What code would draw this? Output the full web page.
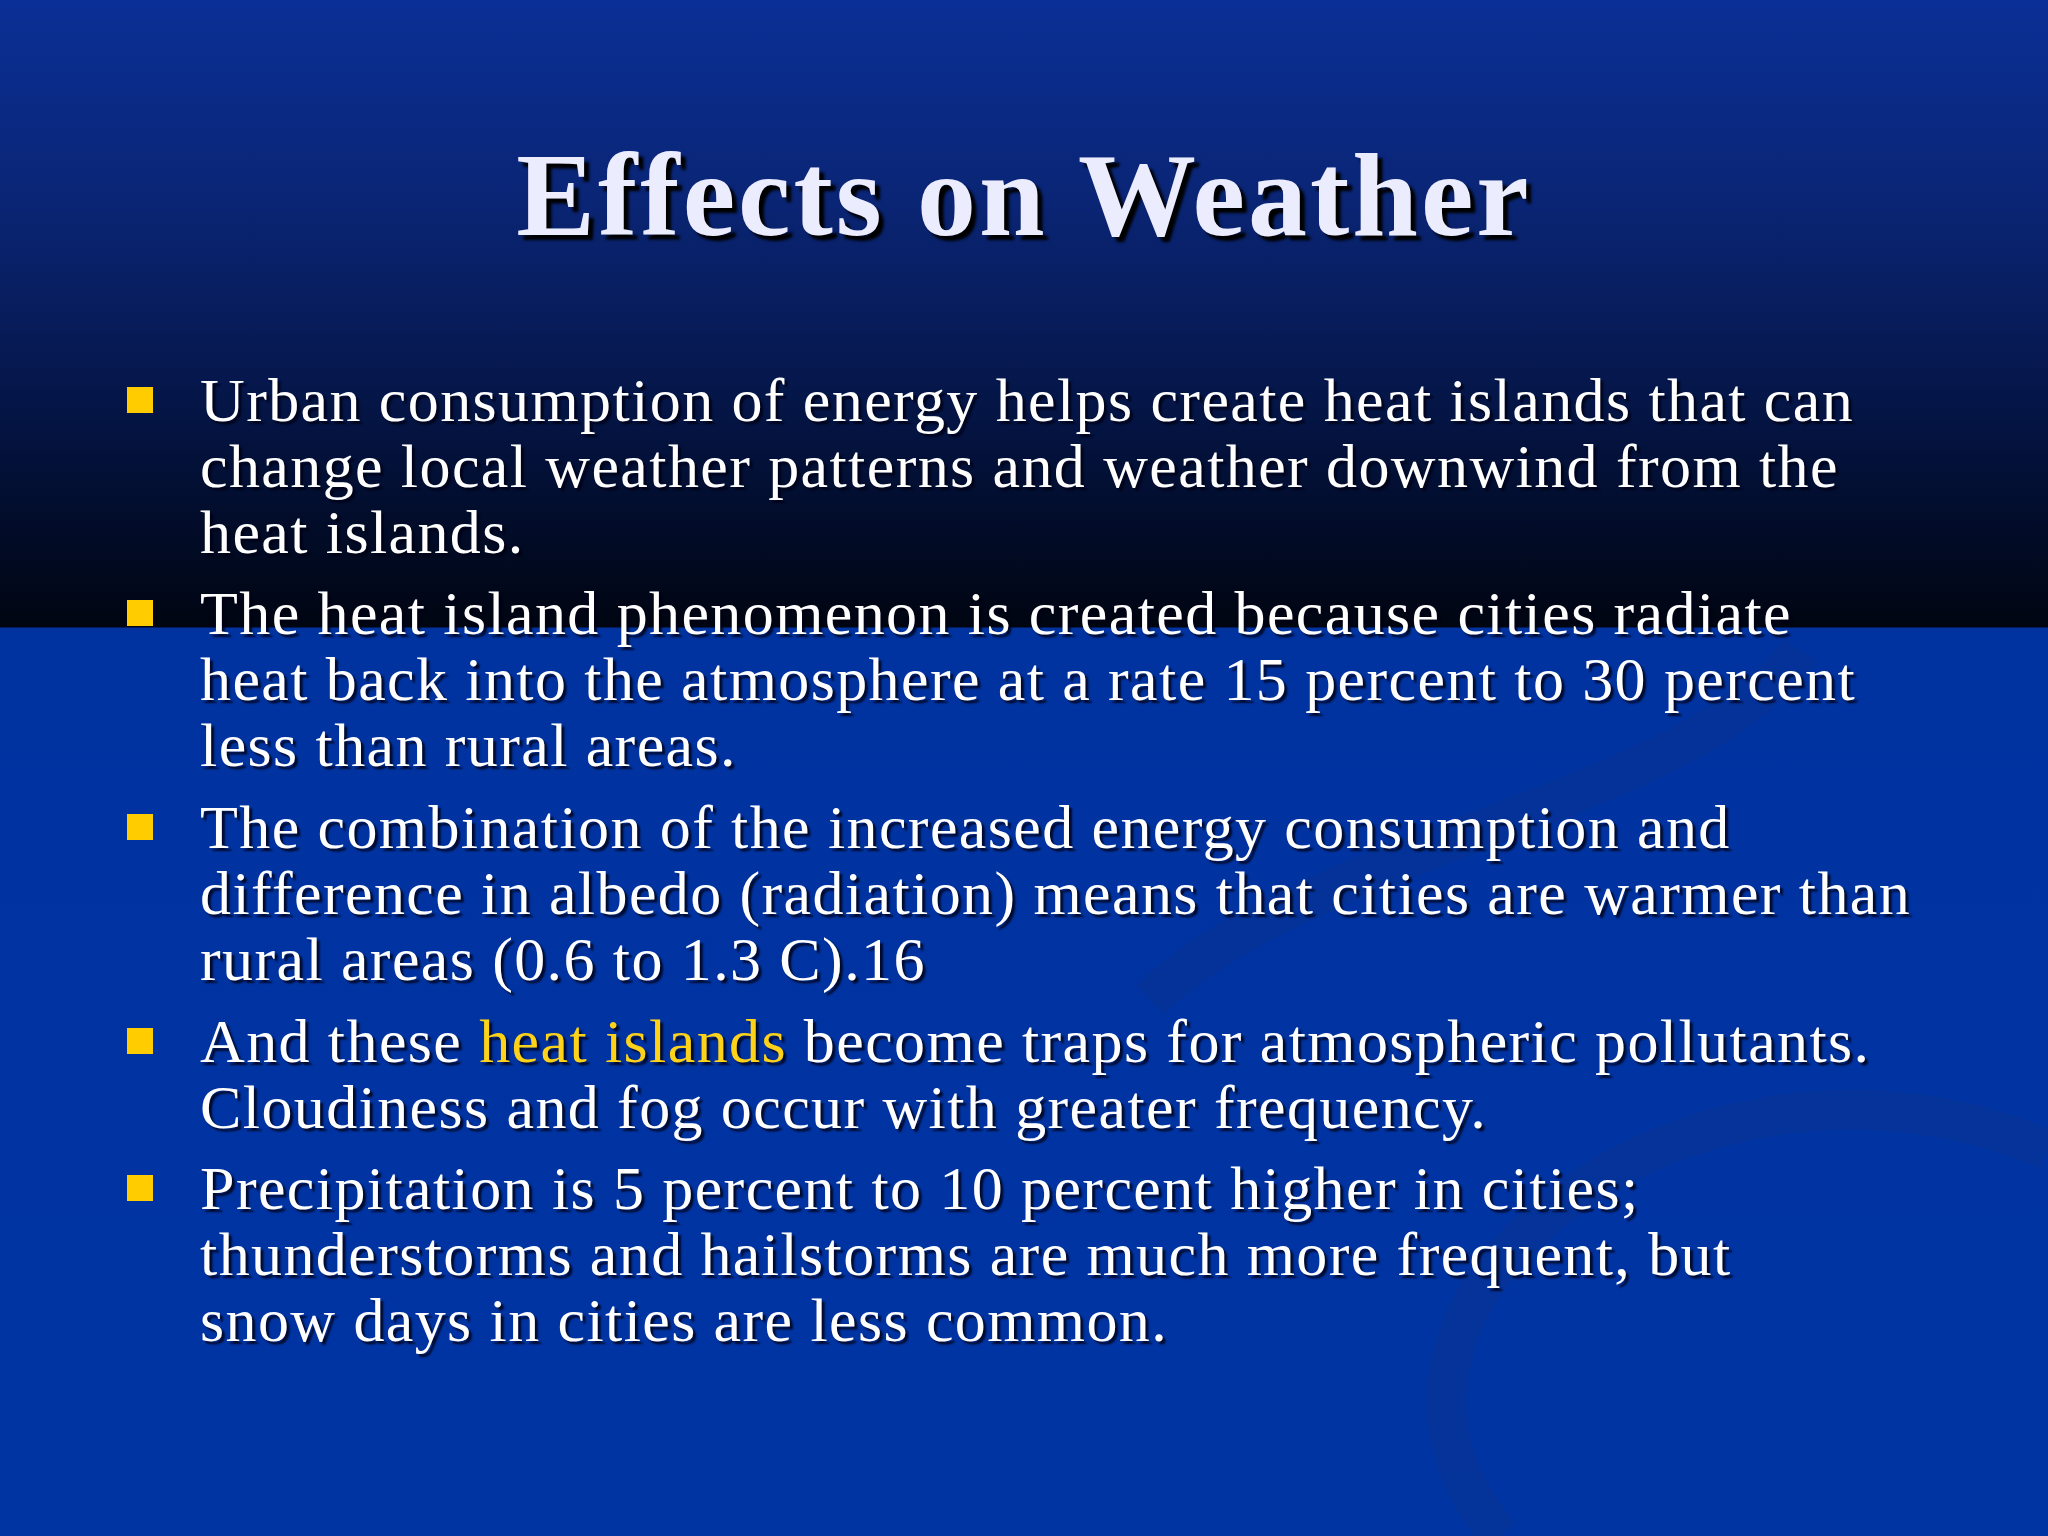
<!DOCTYPE html>
<html><head><meta charset="utf-8">
<script src="https://cdn.jsdelivr.net/npm/chart.js@4"></script>
<style>
html,body{margin:0;padding:0;width:2048px;height:1536px;overflow:hidden;}
body{position:relative;font-family:"Liberation Serif","DejaVu Serif",serif;
 background:linear-gradient(to bottom,#0a2f96 0px,#0a2575 200px,#041443 420px,#000511 627px,#0033a0 628px,#0034a3 1536px);}
#swirl{position:absolute;left:0;top:0;}
h1{position:absolute;top:128px;left:0;width:100%;margin:0;text-align:center;color:#ececff;
 font-size:118px;font-weight:bold;text-shadow:5px 5px 3px #000;letter-spacing:3px;}
.b{position:absolute;left:200px;color:#fff;font-size:62px;line-height:66px;white-space:nowrap;letter-spacing:1.4px;text-shadow:3px 3px 2px rgba(0,0,20,.8);}
.b:before{content:"";position:absolute;left:-73px;top:20px;width:26px;height:26px;background:#ffcc00;}
.y{color:#ffd21a;}
</style></head><body>
<canvas id="swirl" width="2048" height="1536"></canvas>
<h1>Effects on Weather</h1>
<div class="b" style="top:367px">Urban consumption of energy helps create heat islands that can<br>change local weather patterns and weather downwind from the<br>heat islands.</div>
<div class="b" style="top:580px">The heat island phenomenon is created because cities radiate<br>heat back into the atmosphere at a rate 15 percent to 30 percent<br>less than rural areas.</div>
<div class="b" style="top:794px">The combination of the increased energy consumption and<br>difference in albedo (radiation) means that cities are warmer than<br>rural areas (0.6 to 1.3 C).16</div>
<div class="b" style="top:1008px">And these <span class="y">heat islands</span> become traps for atmospheric pollutants.<br>Cloudiness and fog occur with greater frequency.</div>
<div class="b" style="top:1155px">Precipitation is 5 percent to 10 percent higher in cities;<br>thunderstorms and hailstorms are much more frequent, but<br>snow days in cities are less common.</div>
<script>
// faint decorative swirl in the lower half
const c = document.getElementById('swirl').getContext('2d');
c.strokeStyle = 'rgba(10,50,140,0.4)';
c.lineWidth = 40;
c.beginPath();
c.moveTo(1500, 1536);
c.bezierCurveTo(1300, 1300, 1700, 1000, 2048, 1150);
c.stroke();
c.beginPath();
c.moveTo(1150, 1000);
c.bezierCurveTo(1300, 850, 1700, 800, 1800, 650);
c.stroke();
</script>
</body></html>
